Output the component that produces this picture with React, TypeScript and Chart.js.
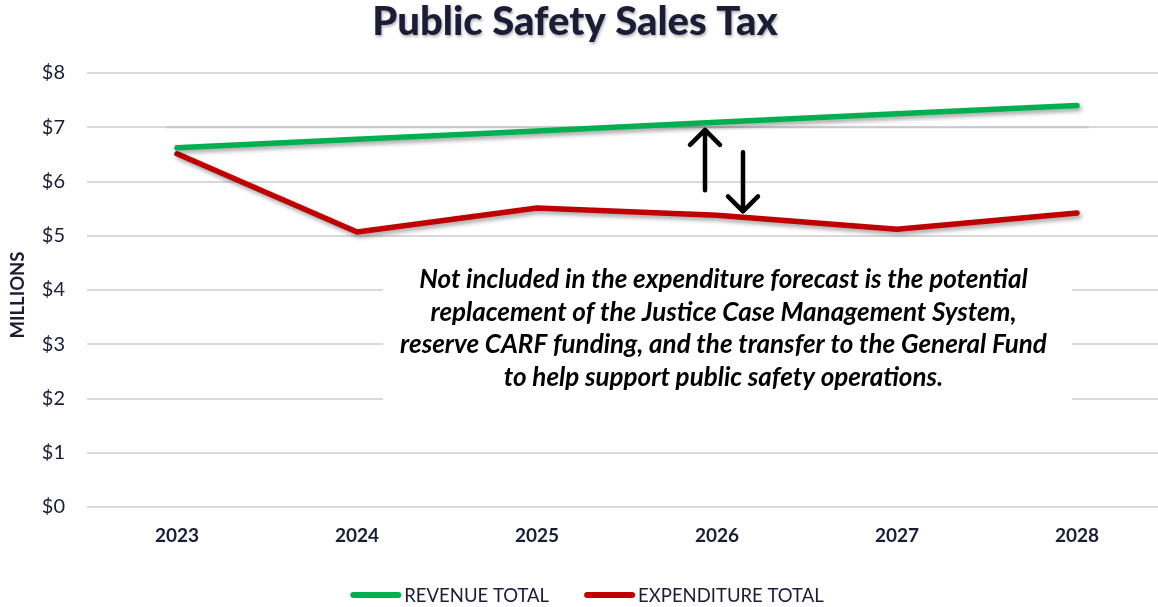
import React, { useEffect, useRef } from "react";
import { Chart, registerables } from "chart.js";

Chart.register(...registerables);

const TITLE = "Public Safety Sales Tax";
const YEARS = ["2023", "2024", "2025", "2026", "2027", "2028"];
const REVENUE = [6.62, 6.78, 6.93, 7.09, 7.25, 7.4];
const EXPENDITURE = [6.51, 5.07, 5.51, 5.38, 5.12, 5.42];
const Y_TICKS = [0, 1, 2, 3, 4, 5, 6, 7, 8];
const SERIES_NAMES = ["REVENUE TOTAL", "EXPENDITURE TOTAL"];
const SERIES_COLORS = ["#00B050", "#C00000"];
const NOTE_LINES = [
  "Not included in the expenditure forecast is the potential",
  "replacement of the Justice Case Management System,",
  "reserve CARF funding, and the transfer to the General Fund",
  "to help support public safety operations.",
];

const FONT = "Lato, 'Open Sans', sans-serif";
const TEXT_DARK = "#1c1c36";

export default function App() {
  const ref = useRef<HTMLCanvasElement | null>(null);

  useEffect(() => {
    document.body.style.overflow = "hidden";
    const canvas = ref.current!;

    const shadowPlugin = {
      id: "lineShadow",
      beforeDatasetDraw(chart: any) {
        const ctx = chart.ctx;
        ctx.save();
        ctx.shadowColor = "rgba(0,0,0,0.35)";
        ctx.shadowBlur = 4;
        ctx.shadowOffsetX = 2;
        ctx.shadowOffsetY = 3;
      },
      afterDatasetDraw(chart: any) {
        chart.ctx.restore();
      },
    };

    const decorPlugin = {
      id: "decor",
      beforeDatasetsDraw(chart: any) {
        const ctx = chart.ctx;
        const x = chart.scales.x;
        const y = chart.scales.y;
        ctx.save();
        ctx.strokeStyle = "#c9c9ce";
        ctx.lineWidth = 2;
        ctx.beginPath();
        ctx.moveTo(x.getPixelForValue(0) - 12, y.getPixelForValue(7));
        ctx.lineTo(x.getPixelForValue(5) + 12, y.getPixelForValue(7));
        ctx.stroke();
        const bx0 = x.getPixelForValue(1) + 26;
        const bx1 = x.getPixelForValue(5) - 5;
        const by0 = y.getPixelForValue(4.5);
        const by1 = y.getPixelForValue(1.95);
        ctx.fillStyle = "#ffffff";
        ctx.fillRect(bx0, by0, bx1 - bx0, by1 - by0);
        ctx.fillStyle = "#000000";
        ctx.font = `italic bold 26px ${FONT}`;
        ctx.textAlign = "center";
        ctx.textBaseline = "middle";
        const cx = (bx0 + bx1) / 2 - 4;
        const startY = y.getPixelForValue(4.19);
        NOTE_LINES.forEach((t, i) => ctx.fillText(t, cx, startY + i * 32.7));
        ctx.restore();
      },
      afterDatasetsDraw(chart: any) {
        const ctx = chart.ctx;
        const x = chart.scales.x;
        const y = chart.scales.y;
        const arrow = (px: number, yFrom: number, yTo: number) => {
          const y0 = y.getPixelForValue(yFrom);
          const y1 = y.getPixelForValue(yTo);
          const dir = y1 < y0 ? 1 : -1;
          ctx.beginPath();
          ctx.moveTo(px, y0);
          ctx.lineTo(px, y1);
          ctx.moveTo(px - 15, y1 + dir * 15);
          ctx.lineTo(px, y1);
          ctx.lineTo(px + 15, y1 + dir * 15);
          ctx.stroke();
        };
        ctx.save();
        ctx.strokeStyle = "#000000";
        ctx.lineWidth = 4.5;
        ctx.lineCap = "round";
        ctx.lineJoin = "round";
        arrow(x.getPixelForValue(3) - 12, 5.84, 6.95);
        arrow(x.getPixelForValue(3) + 26, 6.54, 5.45);
        ctx.restore();
      },
      afterDraw(chart: any) {
        const ctx = chart.ctx;
        ctx.save();
        ctx.font = `900 40px ${FONT}`;
        ctx.textAlign = "center";
        ctx.textBaseline = "middle";
        ctx.shadowColor = "rgba(0,0,0,0.3)";
        ctx.shadowBlur = 3;
        ctx.shadowOffsetX = 1;
        ctx.shadowOffsetY = 2;
        ctx.fillStyle = TEXT_DARK;
        ctx.fillText(TITLE, 575, 22);
        ctx.shadowColor = "transparent";
        ctx.save();
        ctx.translate(18, 295);
        ctx.rotate(-Math.PI / 2);
        ctx.font = `bold 18.5px ${FONT}`;
        ctx.fillText("MILLIONS", 0, 0);
        ctx.restore();
        ctx.font = `18.5px ${FONT}`;
        ctx.textAlign = "left";
        const lineW = 51;
        const gapText = 3;
        const gapItem = 35;
        const widths = SERIES_NAMES.map((n) => lineW + gapText + ctx.measureText(n).width);
        const total = widths.reduce((a, b) => a + b, 0) + gapItem;
        let lx = 587 - total / 2;
        const ly = 595;
        SERIES_NAMES.forEach((n, i) => {
          ctx.strokeStyle = SERIES_COLORS[i];
          ctx.lineWidth = 6;
          ctx.lineCap = "round";
          ctx.beginPath();
          ctx.moveTo(lx + 3, ly);
          ctx.lineTo(lx + lineW - 3, ly);
          ctx.stroke();
          ctx.fillStyle = TEXT_DARK;
          ctx.fillText(n, lx + lineW + gapText, ly + 1);
          lx += widths[i] + gapItem;
        });
        ctx.restore();
      },
    };

    const chart = new Chart(canvas, {
      type: "line",
      data: {
        labels: YEARS,
        datasets: [
          {
            label: SERIES_NAMES[0],
            data: REVENUE,
            borderColor: SERIES_COLORS[0],
            backgroundColor: SERIES_COLORS[0],
            borderWidth: 5.5,
            pointRadius: 0,
            borderCapStyle: "round",
            borderJoinStyle: "round",
            tension: 0,
          },
          {
            label: SERIES_NAMES[1],
            data: EXPENDITURE,
            borderColor: SERIES_COLORS[1],
            backgroundColor: SERIES_COLORS[1],
            borderWidth: 5.5,
            pointRadius: 0,
            borderCapStyle: "round",
            borderJoinStyle: "round",
            tension: 0,
          },
        ],
      },
      options: {
        responsive: false,
        animation: false,
        devicePixelRatio: 1,
        layout: { padding: { top: 73, right: 8, bottom: 0, left: 0 } },
        plugins: {
          legend: { display: false },
          title: { display: false },
          tooltip: { enabled: false },
        },
        scales: {
          x: {
            offset: true,
            grid: { display: false, drawTicks: false },
            border: { display: false },
            ticks: {
              padding: 17,
              color: TEXT_DARK,
              font: { family: FONT, size: 19, weight: "bold" },
            },
            afterFit(scale: any) {
              scale.height = 100;
            },
          },
          y: {
            min: 0,
            max: 8,
            afterBuildTicks(scale: any) {
              scale.ticks = Y_TICKS.map((v) => ({ value: v }));
            },
            grid: { color: "#d9d9d9", lineWidth: 2, drawTicks: false },
            border: { display: false },
            ticks: {
              padding: 22,
              color: TEXT_DARK,
              font: { family: FONT, size: 20 },
              callback: (v: any) => "$" + v,
            },
            afterFit(scale: any) {
              scale.width = 87;
            },
          },
        },
      },
      plugins: [shadowPlugin, decorPlugin],
    });

    return () => chart.destroy();
  }, []);

  return (
    <div style={{ position: "absolute", left: 0, top: 0, width: 1158, height: 607, overflow: "hidden", background: "#fff" }}>
      <canvas ref={ref} width={1175} height={607} style={{ width: 1175, height: 607, display: "block" }} />
    </div>
  );
}
